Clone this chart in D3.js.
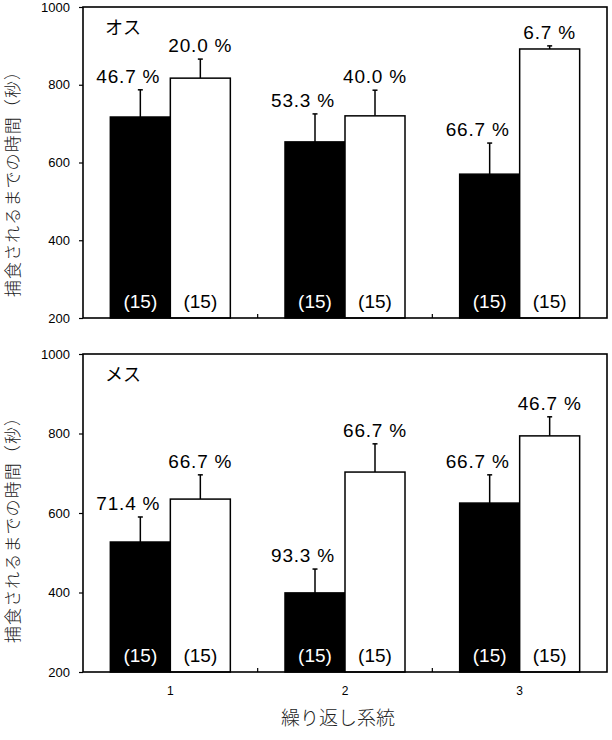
<!DOCTYPE html>
<html>
<head>
<meta charset="utf-8">
<script src="https://cdn.jsdelivr.net/npm/d3@7"></script>
<style>
  body { margin: 0; background: #fff; }
  svg { display: block; }
</style>
</head>
<body>
<svg id="chart" width="612" height="740"></svg>
<script>
// data
var groups = ["1", "2", "3"];
var yTicks = [200, 400, 600, 800, 1000];

var maleBlack = [717, 653, 570];
var maleBlackErr = [70, 72, 80];
var maleWhite = [817, 720, 892];
var maleWhiteErr = [49, 66, 8];
var maleBlackPct = ["46.7 %", "53.3 %", "66.7 %"];
var maleWhitePct = ["20.0 %", "40.0 %", "6.7 %"];

var femaleBlack = [527, 399, 625];
var femaleBlackErr = [63, 60, 71];
var femaleWhite = [635, 703, 794];
var femaleWhiteErr = [61, 71, 48];
var femaleBlackPct = ["71.4 %", "93.3 %", "66.7 %"];
var femaleWhitePct = ["66.7 %", "66.7 %", "46.7 %"];

var nLabel = "(15)";

var svg = d3.select("#chart");
var left = 83, right = 607;
var numFont = "'Liberation Sans', Arial, sans-serif";
var jpFont = "'Noto Sans CJK JP', sans-serif";

var x = d3.scaleBand().domain(groups).range([left, right]);
var sub = d3.scaleBand().domain(["b", "w"])
    .range([x.bandwidth() / 2 - 60, x.bandwidth() / 2 + 60]);

function drawPanel(cfg) {
    var y = d3.scaleLinear().domain([200, 1000]).range([cfg.bottom, cfg.top]);
    var g = svg.append("g");

    var rows = groups.map(function (k, i) {
        return [
            {g: k, s: "b", v: cfg.black[i], e: cfg.blackErr[i], pct: cfg.blackPct[i]},
            {g: k, s: "w", v: cfg.white[i], e: cfg.whiteErr[i], pct: cfg.whitePct[i]}
        ];
    }).flat();

    // error bars
    g.selectAll(".err").data(rows).enter().append("line")
        .attr("x1", function (d) { return x(d.g) + sub(d.s) + sub.bandwidth() / 2; })
        .attr("x2", function (d) { return x(d.g) + sub(d.s) + sub.bandwidth() / 2; })
        .attr("y1", function (d) { return y(d.v); })
        .attr("y2", function (d) { return y(d.v + d.e); })
        .attr("stroke", "#000").attr("stroke-width", 1.5);
    g.selectAll(".cap").data(rows).enter().append("line")
        .attr("x1", function (d) { return x(d.g) + sub(d.s) + sub.bandwidth() / 2 - 2.5; })
        .attr("x2", function (d) { return x(d.g) + sub(d.s) + sub.bandwidth() / 2 + 2.5; })
        .attr("y1", function (d) { return y(d.v + d.e); })
        .attr("y2", function (d) { return y(d.v + d.e); })
        .attr("stroke", "#000").attr("stroke-width", 1.5);

    // bars
    g.selectAll(".bar").data(rows).enter().append("rect")
        .attr("x", function (d) { return x(d.g) + sub(d.s); })
        .attr("y", function (d) { return y(d.v); })
        .attr("width", sub.bandwidth())
        .attr("height", function (d) { return cfg.bottom - y(d.v); })
        .attr("fill", function (d) { return d.s == "b" ? "#000" : "#fff"; })
        .attr("stroke", "#000").attr("stroke-width", 1.5);

    // percentages above error bars
    g.selectAll(".pct").data(rows).enter().append("text")
        .attr("x", function (d) {
            return x(d.g) + sub(d.s) + sub.bandwidth() / 2 + (d.s == "b" ? -12 : 0);
        })
        .attr("y", function (d) { return y(d.v + d.e) - 7; })
        .attr("text-anchor", "middle")
        .attr("font-family", numFont).attr("font-size", 19)
        .attr("letter-spacing", 0.8)
        .text(function (d) { return d.pct; });

    // sample sizes
    g.selectAll(".n").data(rows).enter().append("text")
        .attr("x", function (d) { return x(d.g) + sub(d.s) + sub.bandwidth() / 2; })
        .attr("y", cfg.bottom - 10)
        .attr("text-anchor", "middle")
        .attr("font-family", numFont).attr("font-size", 19)
        .attr("fill", function (d) { return d.s == "b" ? "#fff" : "#000"; })
        .text(nLabel);

    // y axis
    var yAxis = d3.axisLeft(y).tickValues(yTicks).tickFormat(d3.format("d"))
        .tickSize(4).tickPadding(9);
    var ya = g.append("g").attr("transform", "translate(" + left + ",0)").call(yAxis);
    ya.select(".domain").remove();
    ya.selectAll("line").attr("stroke-width", 1.2);
    ya.selectAll("text").attr("font-family", numFont).attr("font-size", 13).attr("fill", "#000");

    // category separators (inside ticks)
    g.selectAll(".sep").data(groups.slice(1)).enter().append("line")
        .attr("x1", function (d) { return x(d); })
        .attr("x2", function (d) { return x(d); })
        .attr("y1", cfg.bottom).attr("y2", cfg.bottom - 4)
        .attr("stroke", "#000").attr("stroke-width", 1.2);

    // frame
    g.append("rect")
        .attr("x", left).attr("y", cfg.top)
        .attr("width", right - left).attr("height", cfg.bottom - cfg.top)
        .attr("fill", "none").attr("stroke", "#000").attr("stroke-width", 1.6);

    // panel label
    g.append("text")
        .attr("x", 105).attr("y", cfg.top + 27)
        .attr("font-family", jpFont).attr("font-size", 18)
        .text(cfg.label);

    // y title
    g.append("text")
        .attr("transform", "translate(19," + cfg.titleY + ") rotate(-90)")
        .attr("text-anchor", "middle")
        .attr("font-family", jpFont).attr("font-size", 17).attr("font-weight", 300)
        .attr("textLength", 234).attr("lengthAdjust", "spacing")
        .attr("fill", "#222")
        .text("捕食されるまでの時間（秒）");

    return y;
}

drawPanel({
    top: 7, bottom: 318, label: "オス", titleY: 180,
    black: maleBlack, blackErr: maleBlackErr, blackPct: maleBlackPct,
    white: maleWhite, whiteErr: maleWhiteErr, whitePct: maleWhitePct
});
drawPanel({
    top: 354, bottom: 672, label: "メス", titleY: 526,
    black: femaleBlack, blackErr: femaleBlackErr, blackPct: femaleBlackPct,
    white: femaleWhite, whiteErr: femaleWhiteErr, whitePct: femaleWhitePct
});

// x category labels
var xAxis = d3.axisBottom(x).tickSize(0).tickPadding(14);
var xa = svg.append("g").attr("transform", "translate(0,672)").call(xAxis);
xa.select(".domain").remove();
xa.selectAll("text").attr("font-family", numFont).attr("font-size", 12).attr("fill", "#000");

svg.append("text")
    .attr("x", 338).attr("y", 725)
    .attr("text-anchor", "middle")
    .attr("font-family", jpFont).attr("font-size", 19).attr("font-weight", 300)
    .attr("fill", "#222")
    .text("繰り返し系統");
</script>
</body>
</html>
